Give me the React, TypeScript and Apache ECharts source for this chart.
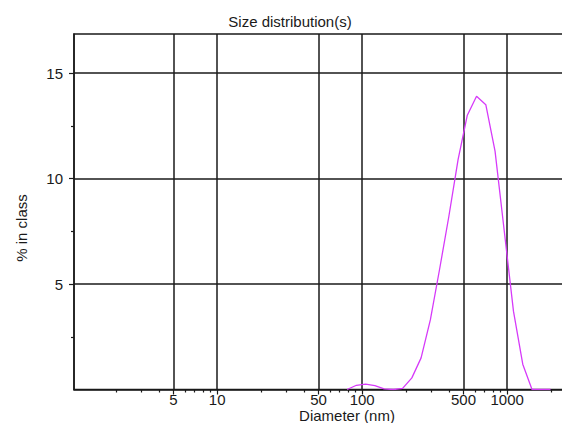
import React, { useEffect, useRef } from "react";
import * as echarts from "echarts";

// Size bins (nm) and intensity per bin (% in class)
const diameters = [
  78.82, 91.28, 105.7, 122.4, 141.8, 164.2, 190.1, 220.2, 255.0, 295.3,
  342.0, 396.1, 458.7, 531.2, 615.1, 712.4, 825.0, 955.4, 1106, 1281,
  1484, 1718, 1990,
];
const percentInClass = [
  0, 0.2, 0.25, 0.18, 0.03, 0, 0.05, 0.55, 1.5, 3.3,
  5.7, 8.2, 10.9, 13.0, 13.9, 13.5, 11.3, 7.5, 3.7, 1.2,
  0, 0, 0,
];

const xMajorTicks = [5, 10, 50, 100, 500, 1000];
const xMinorTicks = [
  2, 3, 4, 6, 7, 8, 9, 20, 30, 40, 60, 70, 80, 90,
  200, 300, 400, 600, 700, 800, 900, 2000,
];
const yMajorTicks = [5, 10, 15];
const yMinorTicks = [2.5, 7.5, 12.5];

const FONT = "'Liberation Sans', Arial, sans-serif";
const INK = "#1a1a1a";

// The plot frame runs past the visible window on the right, so the chart
// canvas is wider than the viewport and the wrapper crops it.
const CANVAS_W = 620;
const CANVAS_H = 423;

export default function App() {
  const ref = useRef<HTMLDivElement>(null);

  useEffect(() => {
    if (!ref.current) return;
    const chart = echarts.init(ref.current, null, { renderer: "svg" });
    const xRange = { min: 1.03, max: 2800 };
    chart.setOption({
      animation: false,
      backgroundColor: "#fff",
      grid: {
        left: 74,
        top: 34,
        bottom: 33.5,
        right: 48,
        show: true,
        borderColor: INK,
        borderWidth: 1.5,
        backgroundColor: "transparent",
      },
      xAxis: [
        {
          type: "log",
          logBase: 10,
          ...xRange,
          position: "bottom",
          axisLine: { show: true, lineStyle: { color: INK, width: 1.5 } },
          axisTick: {
            show: true,
            inside: false,
            length: 5,
            customValues: xMajorTicks,
            lineStyle: { color: INK, width: 1.2 },
          },
          axisLabel: {
            customValues: xMajorTicks,
            formatter: (v: number) => String(Math.round(v)),
            color: INK,
            fontFamily: FONT,
            fontSize: 15,
            margin: 2,
          },
          splitLine: { show: true, lineStyle: { color: INK, width: 1.5 } },
        },
        {
          type: "log",
          logBase: 10,
          ...xRange,
          position: "bottom",
          offset: 0,
          axisLine: { show: false },
          axisTick: {
            show: true,
            inside: false,
            length: 3,
            customValues: xMinorTicks,
            lineStyle: { color: INK, width: 1.2 },
          },
          axisLabel: { show: false },
          splitLine: { show: false },
        },
      ],
      yAxis: [
        {
          type: "value",
          min: 0,
          max: 16.85,
          interval: 5,
          axisLine: { show: true, lineStyle: { color: INK, width: 1.5 } },
          axisTick: {
            show: true,
            inside: false,
            length: 5,
            customValues: yMajorTicks,
            lineStyle: { color: INK, width: 1.2 },
          },
          axisLabel: {
            customValues: yMajorTicks,
            color: INK,
            fontFamily: FONT,
            fontSize: 15,
            margin: 11,
          },
          splitLine: { show: true, lineStyle: { color: INK, width: 1.5 } },
        },
        {
          type: "value",
          min: 0,
          max: 16.85,
          interval: 5,
          position: "left",
          offset: 0,
          axisLine: { show: false },
          axisTick: {
            show: true,
            inside: false,
            length: 3,
            customValues: yMinorTicks,
            lineStyle: { color: INK, width: 1.2 },
          },
          axisLabel: { show: false },
          splitLine: { show: false },
        },
      ],
      graphic: [
        {
          type: "text",
          x: 290,
          y: 21,
          style: {
            text: "Size distribution(s)",
            font: `15px ${FONT}`,
            fill: INK,
            textAlign: "center",
            textVerticalAlign: "middle",
          },
        },
        {
          type: "text",
          x: 347,
          y: 415,
          style: {
            text: "Diameter (nm)",
            font: `15px ${FONT}`,
            fill: INK,
            textAlign: "center",
            textVerticalAlign: "middle",
          },
        },
        {
          type: "text",
          x: 21,
          y: 228,
          rotation: Math.PI / 2,
          style: {
            text: "% in class",
            font: `15px ${FONT}`,
            fill: INK,
            textAlign: "center",
            textVerticalAlign: "middle",
          },
        },
      ],
      series: [
        {
          type: "line",
          xAxisIndex: 0,
          yAxisIndex: 0,
          data: diameters.map((d, i) => [d, percentInClass[i]]),
          symbol: "none",
          lineStyle: { color: "#d63af9", width: 1.3 },
          clip: true,
        },
      ],
    });
    return () => chart.dispose();
  }, []);

  return (
    <div
      style={{
        position: "absolute",
        left: 0,
        top: 0,
        width: 562,
        height: 423,
        overflow: "hidden",
        background: "#fff",
      }}
    >
      <div ref={ref} style={{ width: CANVAS_W, height: CANVAS_H }} />
    </div>
  );
}
